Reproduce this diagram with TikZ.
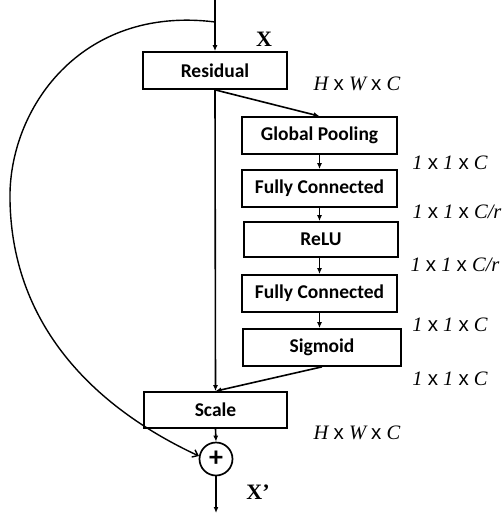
\documentclass[tikz,border=0pt]{standalone}
\usepackage{fontspec}
\setmainfont{Liberation Serif}
\newfontfamily\boxfont{Carlito}
\newfontfamily\xfont{Liberation Sans}
\usetikzlibrary{arrows.meta}
\newcommand{\byx}{{\xfont\upshape x}}
\begin{document}
\begin{tikzpicture}[x=1pt,y=-1pt,
  blk/.style={draw, line width=1.7pt, minimum height=37pt, inner sep=0pt,
    font=\boxfont\bfseries\fontsize{19.5}{21}\selectfont},
  sumnode/.style={draw, circle, line width=1.7pt, minimum size=33pt, inner sep=0pt,
    font=\boxfont\bfseries\fontsize{28}{28}\selectfont},
  dimlbl/.style={font=\fontsize{20.5}{22}\selectfont\itshape, inner sep=0pt},
  varlbl/.style={font=\fontsize{22}{22}\selectfont\bfseries, inner sep=0pt},
  conn/.style={line width=1.6pt, -{Latex[length=6pt,width=5pt]}},
  skip/.style={line width=1.4pt, -{Straight Barb[length=5pt,width=8pt]}}]
\useasboundingbox (0,0) rectangle (502,514);

% main path blocks
\node[blk, minimum width=144pt] (res) at (215,70.5) {Residual};
\node[blk, minimum width=143pt, minimum height=36pt] (scale) at (215.5,410) {Scale};
\node[sumnode] (add) at (216,459) {+};

% squeeze-and-excitation branch
\node[blk, minimum width=155pt] (gp) at (319.5,135.5) {Global Pooling};
\node[blk, minimum width=155pt] (fc1) at (319.5,188.5) {Fully Connected};
\node[blk, minimum width=154pt, minimum height=35pt] (relu) at (321,239.5) {ReLU};
\node[blk, minimum width=155pt] (fc2) at (319.5,293.5) {Fully Connected};
\node[blk, minimum width=158pt] (sig) at (322,347.5) {Sigmoid};

% input / output ends
\coordinate (in) at (215,0);
\coordinate (split) at (215,22);
\coordinate (out) at (216,513);

% connectors
\draw[conn] (in) -- (res.north);
\draw[conn] (res.south) -- (scale.north);
\draw[conn] (res.south) -- (gp.north);
\draw[conn] (gp.south) -- (gp.south |- fc1.north);
\draw[conn] (fc1.south) -- (fc1.south |- relu.north);
\draw[conn] (relu.south -| fc1.south) -- (fc2.north);
\draw[conn] (fc2.south) -- (fc2.south |- sig.north);
\draw[conn] (sig.south) -- (scale.north);
\draw[conn] (scale.south) -- (add.north);
\draw[conn] (add.south) -- (out);

% identity shortcut
\draw[skip] (split) .. controls (80,5) and (8,110) .. (10,200)
  .. controls (12,330) and (100,410) .. (add.170);

% labels
\node[varlbl] (xin) at (264,39) {X};
\node[varlbl] (xout) at (258,492) {X’};
\node[dimlbl] (d0) at (357,84) {H \byx{} W \byx{} C};
\node[dimlbl] (d1) at (450,163) {1 \byx{} 1 \byx{} C};
\node[dimlbl] (d2) at (457,212) {1 \byx{} 1 \byx{} C/r};
\node[dimlbl] (d3) at (455,265) {1 \byx{} 1 \byx{} C/r};
\node[dimlbl] (d4) at (450,325) {1 \byx{} 1 \byx{} C};
\node[dimlbl] (d5) at (450,379) {1 \byx{} 1 \byx{} C};
\node[dimlbl] (d6) at (357,433) {H \byx{} W \byx{} C};
\end{tikzpicture}
\end{document}
